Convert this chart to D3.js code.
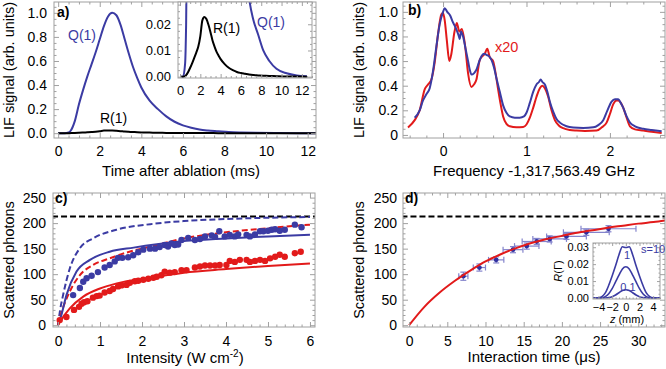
<!DOCTYPE html>
<html>
<head>
<meta charset="utf-8">
<script src="https://cdn.jsdelivr.net/npm/d3@7"></script>
<style>
  body { margin: 0; background: #fff; }
  svg { font-family: "Liberation Sans", Arial, sans-serif; }
</style>
</head>
<body>
<svg id="fig" width="666" height="369"></svg>
<script>
// ---- a) LIF time traces (ms, arb. units) ----
var tA  = [0, 0.3, 0.5, 0.6, 0.8, 1.0, 1.2, 1.4, 1.6, 1.8, 2.0, 2.2, 2.4, 2.6, 2.8, 3.0, 3.2, 3.4, 3.6, 3.8, 4.0,
           4.4, 4.8, 5.2, 5.6, 6.0, 6.4, 6.8, 7.2, 7.7, 8.2, 8.8, 9.5, 10.5, 11.5, 12.5];
var q1A = [0, 0, 0.005, 0.02, 0.1, 0.24, 0.36, 0.47, 0.57, 0.67, 0.78, 0.89, 0.97, 1.0, 0.98, 0.9, 0.78, 0.66, 0.55, 0.46, 0.38,
           0.27, 0.2, 0.14, 0.095, 0.065, 0.045, 0.03, 0.022, 0.016, 0.01, 0.006, 0.003, 0.0013, 0.0005, 0.0002];
var r1A = [0, 0, 0.0002, 0.0006, 0.0018, 0.0034, 0.0052, 0.0072, 0.0092, 0.0115, 0.0155, 0.0215, 0.0228, 0.022, 0.0198, 0.017, 0.0138, 0.0115, 0.0095, 0.008, 0.0067,
           0.0048, 0.0034, 0.0025, 0.0018, 0.0014, 0.0011, 0.0008, 0.0006, 0.0005, 0.0004, 0.0003, 0.0002, 0.0001, 0.0001, 0];

// ---- b) spectra (GHz offset, arb. units) ----
var specBlue = [[-0.34,0.14],[-0.28,0.2],[-0.24,0.28],[-0.2,0.33],[-0.16,0.38],[-0.12,0.52],[-0.08,0.72],[-0.04,0.9],
  [0.0,1.0],[0.02,1.03],[0.05,1.0],[0.085,0.97],[0.115,0.92],[0.145,0.88],[0.17,0.84],[0.19,0.8],[0.2,0.78],[0.215,0.84],
  [0.24,0.8],[0.27,0.7],[0.3,0.6],[0.32,0.53],[0.34,0.49],[0.37,0.5],[0.4,0.53],[0.43,0.59],[0.46,0.64],[0.49,0.66],
  [0.52,0.65],[0.55,0.64],[0.58,0.61],[0.61,0.55],[0.64,0.46],[0.68,0.35],[0.72,0.24],[0.76,0.18],[0.8,0.15],[0.86,0.14],
  [0.92,0.14],[0.97,0.15],[1.0,0.18],[1.04,0.26],[1.08,0.35],[1.12,0.41],[1.15,0.43],[1.17,0.45],[1.19,0.43],[1.22,0.41],
  [1.25,0.35],[1.28,0.27],[1.32,0.19],[1.36,0.13],[1.4,0.1],[1.48,0.07],[1.56,0.06],[1.68,0.057],[1.8,0.062],[1.86,0.08],
  [1.92,0.12],[1.97,0.2],[2.02,0.27],[2.06,0.29],[2.1,0.29],[2.13,0.26],[2.16,0.22],[2.2,0.15],[2.24,0.1],[2.3,0.07],
  [2.4,0.05],[2.5,0.04],[2.62,0.03]];
var specRed = [[-0.42,0.06],[-0.34,0.12],[-0.28,0.2],[-0.22,0.37],[-0.18,0.41],[-0.14,0.45],[-0.1,0.59],[-0.06,0.82],
  [-0.02,0.98],[0.0,0.99],[0.02,0.93],[0.045,0.77],[0.075,0.6],[0.1,0.66],[0.135,0.83],[0.165,0.91],[0.195,0.84],[0.225,0.86],
  [0.265,0.72],[0.3,0.5],[0.34,0.39],[0.37,0.41],[0.4,0.45],[0.44,0.61],[0.5,0.66],[0.53,0.7],[0.56,0.63],[0.6,0.6],
  [0.63,0.5],[0.66,0.37],[0.69,0.25],[0.72,0.15],[0.76,0.09],[0.8,0.07],[0.88,0.062],[0.96,0.065],[1.0,0.085],[1.04,0.14],
  [1.08,0.22],[1.12,0.31],[1.16,0.38],[1.19,0.4],[1.22,0.38],[1.26,0.31],[1.3,0.2],[1.34,0.12],[1.39,0.075],[1.44,0.055],
  [1.52,0.04],[1.6,0.035],[1.7,0.032],[1.84,0.035],[1.9,0.06],[1.96,0.1],[2.0,0.17],[2.04,0.25],[2.08,0.28],[2.1,0.28],
  [2.13,0.26],[2.16,0.22],[2.2,0.14],[2.24,0.07],[2.3,0.045],[2.4,0.035],[2.5,0.025],[2.62,0.016]];

// ---- c) scattered photons vs intensity (W cm^-2) ----
var maxPhotons = 213;
var blueDots = [[0.36,59],[0.52,73],[0.6,85],[0.68,92],[0.8,97],[0.95,104],[1.11,113],[1.23,118],[1.35,125],[1.43,132],
  [1.53,132],[1.67,133],[1.79,137],[1.91,143],[2.03,148],[2.19,150],[2.31,150],[2.42,153],[2.54,157],[2.62,154],[2.7,160],
  [2.78,157],[2.86,158],[2.94,167],[3.1,171],[3.26,167],[3.38,169],[3.5,174],[3.66,176],[3.74,173],[3.84,184],[3.97,174],
  [4.09,177],[4.21,174],[4.29,178],[4.49,177],[4.57,174],[4.69,178],[4.81,184],[4.89,184],[5.0,185],[5.09,187],[5.17,188],
  [5.28,185],[5.4,187],[5.64,197],[5.8,192]];
var redDots = [[0.04,10],[0.2,16],[0.38,30],[0.5,36],[0.56,42],[0.62,45],[0.7,47],[0.83,54],[0.92,57],[0.99,58],[1.11,64],
  [1.23,67],[1.31,71],[1.43,76],[1.51,78],[1.63,79],[1.71,83],[1.83,86],[1.91,87],[2.03,89],[2.15,91],[2.27,93],[2.35,95],
  [2.46,98],[2.54,105],[2.66,103],[2.78,104],[2.94,108],[3.06,108],[3.26,113],[3.38,115],[3.5,117],[3.62,117],[3.74,117],
  [3.85,118],[4.01,118],[4.09,126],[4.21,124],[4.33,128],[4.49,128],[4.57,124],[4.69,126],[4.81,128],[4.93,126],[5.05,131],
  [5.17,134],[5.28,138],[5.4,134],[5.64,141],[5.78,144]];
var blueDashed = [[0,0],[0.05,30],[0.12,59],[0.28,111],[0.52,151],[0.83,170],[1.39,187],[2.2,198],[3,204],[4,208],[5,210.5],[6,212]];
var blueSolid  = [[0,0],[0.08,20],[0.2,59],[0.44,105],[0.76,128],[1.23,144],[1.8,152],[2.4,159],[2.9,164],[4,170],[5,174],[6,177]];
var redDashed  = [[0,0],[0.04,13],[0.28,66],[0.52,98],[0.83,118],[1.23,131],[1.7,144],[2.2,154],[3,170],[4,182],[5,190],[6,197]];
var redSolid   = [[0,0],[0.04,6],[0.28,33],[0.6,56],[1.0,72],[1.4,82],[2.2,93],[3,103],[4,110],[5,116],[6,121]];

// ---- d) scattered photons vs interaction time (us) ----
var tInt   = [7.1, 9.2, 11.4, 13.6, 15.4, 16.7, 18.4, 20.6, 23.2, 26.1];
var nInt   = [96, 113, 128, 148, 155, 164, 169, 174, 182, 189];
var tErr   = [0.6, 0.8, 1.0, 1.3, 1.6, 1.9, 2.2, 2.6, 3.0, 3.6];
var nErr   = [8, 7, 6, 6, 6, 6, 6, 6, 6, 6];
var fitD   = [[0,0],[2,36],[4,64],[6,87],[8,107],[10,125],[12,139],[14,151],[16,161],[18,169],[20,175],[22,181],
              [24,186],[26,191],[28,195],[30,199],[32,202],[33.5,205]];

// ---- d inset) scattering rate vs z (mm) ----
var zPos  = [-5, -4, -3.5, -3, -2.5, -2, -1.5, -1, -0.5, 0, 0.5, 1, 1.5, 2, 2.5, 3, 3.5, 4, 5];
var rateS01 = [0, 0, 0, 0.0001, 0.0003, 0.0008, 0.0018, 0.0031, 0.0044, 0.0049, 0.0044, 0.0031, 0.0018, 0.0008, 0.0003, 0.0001, 0, 0, 0];
var rateS1  = [0, 0, 0.0002, 0.0008, 0.0025, 0.0055, 0.0095, 0.0135, 0.0172, 0.0185, 0.0172, 0.0135, 0.0095, 0.0055, 0.0025, 0.0008, 0.0002, 0, 0];
var rateS10 = [0, 0.0001, 0.0008, 0.003, 0.0075, 0.013, 0.019, 0.0255, 0.0303, 0.0298, 0.0303, 0.0255, 0.019, 0.013, 0.0075, 0.003, 0.0008, 0.0001, 0];

var blue = "#3b3ba3", red = "#e21a1a", frameCol = "#a0a0a0", errCol = "#8484cc";

var svg = d3.select("#fig");
var clipId = 0;

function addAxis(g, axis, pos, values, size, fmt, pad, fs) {
    var a = g.append("g")
        .attr("transform", pos)
        .call(axis.tickValues(values).tickSize(-size).tickPadding(pad || 0).tickFormat(fmt || ""));
    a.attr("font-family", null).attr("font-size", fs || 14);
    a.select(".domain").remove();
    a.selectAll("line").attr("stroke", frameCol);
    a.selectAll("text").attr("fill", "#000");
}

function minors(lo, hi, step, major) {
    return d3.range(lo, hi + step / 2, step).filter(function(v) {
        return !major.some(function(m) { return Math.abs(m - v) < step / 10; });
    });
}

// frame with inward ticks on all four sides, labels on bottom/left
function frame(g, x, y, o) {
    var x0 = x.range()[0], x1 = x.range()[1], y0 = y.range()[0], y1 = y.range()[1];
    var big = o.tick || 5, small = big / 2;
    g.append("rect")
        .attr("x", x0).attr("y", y1)
        .attr("width", x1 - x0).attr("height", y0 - y1)
        .attr("fill", "none").attr("stroke", frameCol);
    addAxis(g, d3.axisBottom(x), "translate(0," + y0 + ")", o.xMajor, big, o.xFmt, o.xPad, o.fs);
    addAxis(g, d3.axisBottom(x), "translate(0," + y0 + ")", o.xMinor, small);
    addAxis(g, d3.axisTop(x), "translate(0," + y1 + ")", o.xMajor, big);
    addAxis(g, d3.axisTop(x), "translate(0," + y1 + ")", o.xMinor, small);
    addAxis(g, d3.axisLeft(y), "translate(" + x0 + ",0)", o.yMajor, big, o.yFmt, o.yPad, o.fs);
    addAxis(g, d3.axisLeft(y), "translate(" + x0 + ",0)", o.yMinor, small);
    addAxis(g, d3.axisRight(y), "translate(" + x1 + ",0)", o.yMajor, big);
    addAxis(g, d3.axisRight(y), "translate(" + x1 + ",0)", o.yMinor, small);
}

function plotArea(x, y, white) {
    var id = "clip" + (clipId++);
    var x0 = x.range()[0], x1 = x.range()[1], y0 = y.range()[0], y1 = y.range()[1];
    svg.append("clipPath").attr("id", id)
        .append("rect").attr("x", x0).attr("y", y1).attr("width", x1 - x0).attr("height", y0 - y1);
    if (white) {
        svg.append("rect").attr("x", x0).attr("y", y1).attr("width", x1 - x0).attr("height", y0 - y1).attr("fill", "#fff");
    }
    return svg.append("g").attr("clip-path", "url(#" + id + ")");
}

function curve(g, x, y, pts, color, dash, w) {
    g.append("path")
        .datum(pts)
        .attr("fill", "none")
        .attr("stroke", color)
        .attr("stroke-width", w || 2)
        .attr("stroke-dasharray", dash || null)
        .attr("d", d3.line().curve(d3.curveMonotoneX)
            .x(function(d) { return x(d[0]); })
            .y(function(d) { return y(d[1]); }));
}

function label(x, y, txt, o) {
    o = o || {};
    return svg.append("text")
        .attr("x", x).attr("y", y)
        .attr("font-size", o.fs || 14)
        .attr("font-weight", o.bold ? "bold" : null)
        .attr("text-anchor", o.anchor || "start")
        .attr("fill", o.color || "#000")
        .text(txt);
}

function yTitle(x, y, txt) {
    return svg.append("text")
        .attr("transform", "translate(" + x + "," + y + ") rotate(-90)")
        .attr("text-anchor", "middle")
        .attr("font-size", 14.5)
        .text(txt);
}

var zip = function(xs, ys) { return xs.map(function(v, i) { return [v, ys[i]]; }); };
var f1 = d3.format(".1f"), f2 = d3.format(".2f"), fd = d3.format("d");

// ================= a) =================
var xa = d3.scaleLinear().domain([-0.2, 12.4]).range([54, 316]);
var ya = d3.scaleLinear().domain([-0.04, 1.09]).range([138, 2]);
var ga = plotArea(xa, ya);
curve(ga, xa, ya, zip(tA, q1A), blue);
curve(ga, xa, ya, zip(tA, r1A), "#000");
frame(svg.append("g"), xa, ya, {
    xMajor: d3.range(0, 13, 2), xMinor: minors(0, 12, 0.5, d3.range(0, 13, 2)), xFmt: fd, xPad: 8,
    yMajor: d3.range(0, 1.01, 0.2), yMinor: minors(0, 1.05, 0.05, d3.range(0, 1.01, 0.2)), yFmt: f1, yPad: 7
});
label(68, 40, "Q(1)", {color: blue});
label(100, 123, "R(1)");
label(57, 17, "a)", {bold: true});
label(181, 176, "Time after ablation (ms)", {fs: 15, anchor: "middle"});
yTitle(14, 70, "LIF signal (arb. units)");

// inset a
var xai = d3.scaleLinear().domain([-0.2, 13]).range([178, 312]);
var yai = d3.scaleLinear().domain([-0.0005, 0.0285]).range([78, 2]);
var gai = plotArea(xai, yai, true);
curve(gai, xai, yai, zip(tA, q1A), blue);
curve(gai, xai, yai, zip(tA, r1A), "#000");
frame(svg.append("g"), xai, yai, {
    tick: 4, fs: 13,
    xMajor: d3.range(0, 13, 2), xMinor: minors(0, 13, 0.5, d3.range(0, 13, 2)), xFmt: fd, xPad: 8,
    yMajor: [0, 0.01, 0.02], yMinor: minors(0, 0.0275, 0.0025, [0, 0.01, 0.02]), yFmt: f2, yPad: 7
});
label(213, 33, "R(1)");
label(257, 27, "Q(1)", {color: blue});

// ================= b) =================
var xb = d3.scaleLinear().domain([-0.48, 2.66]).range([403, 665]);
var yb = d3.scaleLinear().domain([-0.025, 1.08]).range([138, 2]);
var gb = plotArea(xb, yb);
curve(gb, xb, yb, specRed, red);
curve(gb, xb, yb, specBlue, blue);
frame(svg.append("g"), xb, yb, {
    xMajor: [0, 1, 2], xMinor: minors(-0.4, 2.6, 0.2, [0, 1, 2]), xFmt: fd, xPad: 8,
    yMajor: d3.range(0, 1.01, 0.2), yMinor: minors(0, 1.05, 0.05, d3.range(0, 1.01, 0.2)),
    yFmt: function(d) { return d === 0 ? "0" : f1(d); }, yPad: 5
});
label(495, 52, "x20", {color: red, fs: 14.5});
label(408, 15, "b)", {bold: true});
label(534, 176, "Frequency -1,317,563.49 GHz", {fs: 15, anchor: "middle"});
yTitle(364, 70, "LIF signal (arb. units)");

// ================= c) =================
var xc = d3.scaleLinear().domain([-0.12, 6.12]).range([53, 315]);
var yc = d3.scaleLinear().domain([-3.5, 259]).range([327, 193]);
var gc = plotArea(xc, yc);
curve(gc, xc, yc, [[-1, maxPhotons], [7, maxPhotons]], "#000", "6,3");
curve(gc, xc, yc, blueDashed, blue, "6,3");
curve(gc, xc, yc, redDashed, red, "6,3");
curve(gc, xc, yc, blueSolid, blue);
curve(gc, xc, yc, redSolid, red);
gc.selectAll(".bd").data(blueDots).enter().append("circle")
    .attr("cx", function(d) { return xc(d[0]); })
    .attr("cy", function(d) { return yc(d[1]); })
    .attr("r", 3.2).attr("fill", blue);
gc.selectAll(".rd").data(redDots).enter().append("circle")
    .attr("cx", function(d) { return xc(d[0]); })
    .attr("cy", function(d) { return yc(d[1]); })
    .attr("r", 3.2).attr("fill", red);
frame(svg.append("g"), xc, yc, {
    xMajor: d3.range(0, 7), xMinor: minors(0, 6, 0.2, d3.range(0, 7)), xFmt: fd, xPad: 9,
    yMajor: d3.range(0, 251, 50), yMinor: minors(0, 250, 10, d3.range(0, 251, 50)), yFmt: fd, yPad: 7
});
label(55, 203, "c)", {bold: true});
var tc = label(185, 363, "Intensity (W cm", {fs: 15, anchor: "middle"});
tc.append("tspan").attr("dy", -6).attr("font-size", 10).text("-2");
tc.append("tspan").attr("dy", 6).text(")");
yTitle(14, 260, "Scattered photons");

// ================= d) =================
var xd = d3.scaleLinear().domain([-0.8, 33.5]).range([403, 665]);
var yd = d3.scaleLinear().domain([-3.5, 259]).range([327, 193]);
var gd = plotArea(xd, yd);
curve(gd, xd, yd, [[-1, maxPhotons], [40, maxPhotons]], "#000", "6,3");
var pts = tInt.map(function(t, i) { return {t: t, n: nInt[i], te: tErr[i], ne: nErr[i]}; });
var eb = gd.selectAll(".eb").data(pts).enter().append("g")
    .attr("stroke", errCol).attr("stroke-width", 1.2);
eb.append("line")
    .attr("x1", function(d) { return xd(d.t - d.te); })
    .attr("x2", function(d) { return xd(d.t + d.te); })
    .attr("y1", function(d) { return yd(d.n); })
    .attr("y2", function(d) { return yd(d.n); });
eb.append("line")
    .attr("x1", function(d) { return xd(d.t); })
    .attr("x2", function(d) { return xd(d.t); })
    .attr("y1", function(d) { return yd(d.n - d.ne); })
    .attr("y2", function(d) { return yd(d.n + d.ne); });
[-1, 1].forEach(function(s) {
    eb.append("line")
        .attr("x1", function(d) { return xd(d.t + s * d.te); })
        .attr("x2", function(d) { return xd(d.t + s * d.te); })
        .attr("y1", function(d) { return yd(d.n) - 3; })
        .attr("y2", function(d) { return yd(d.n) + 3; });
    eb.append("line")
        .attr("x1", function(d) { return xd(d.t) - 3; })
        .attr("x2", function(d) { return xd(d.t) + 3; })
        .attr("y1", function(d) { return yd(d.n + s * d.ne); })
        .attr("y2", function(d) { return yd(d.n + s * d.ne); });
});
gd.selectAll(".pt").data(pts).enter().append("circle")
    .attr("cx", function(d) { return xd(d.t); })
    .attr("cy", function(d) { return yd(d.n); })
    .attr("r", 2.4).attr("fill", "#3030a0");
curve(gd, xd, yd, fitD, red);
frame(svg.append("g"), xd, yd, {
    xMajor: d3.range(0, 31, 5), xMinor: minors(0, 33, 1, d3.range(0, 31, 5)), xFmt: fd, xPad: 9,
    yMajor: d3.range(0, 251, 50), yMinor: minors(0, 250, 10, d3.range(0, 251, 50)), yFmt: fd, yPad: 6
});
label(405, 203, "d)", {bold: true});
label(534, 362, "Interaction time (\u03bcs)", {fs: 15, anchor: "middle"});
yTitle(364, 260, "Scattered photons");

// inset d
var xdi = d3.scaleLinear().domain([-4.8, 5.0]).range([593, 660]);
var ydi = d3.scaleLinear().domain([-0.0006, 0.0325]).range([299, 243]);
var gdi = plotArea(xdi, ydi, true);
[rateS01, rateS1, rateS10].forEach(function(r) {
    curve(gdi, xdi, ydi, zip(zPos, r), blue, null, 1.6);
});
frame(svg.append("g"), xdi, ydi, {
    tick: 3, fs: 11,
    xMajor: d3.range(-4, 5, 2), xMinor: minors(-4.5, 5, 0.5, d3.range(-4, 5, 2)), xFmt: fd, xPad: 4,
    yMajor: [0, 0.01, 0.02, 0.03], yMinor: minors(0, 0.0325, 0.0025, [0, 0.01, 0.02, 0.03]), yFmt: f2, yPad: 4
});
label(641, 253, "s=10", {color: blue, fs: 11});
label(627, 259, "1", {color: blue, fs: 11, anchor: "middle"});
label(628, 291, "0.1", {color: blue, fs: 11, anchor: "middle"});
var rt = svg.append("text")
    .attr("transform", "translate(562,271) rotate(-90)")
    .attr("text-anchor", "middle").attr("font-size", 11);
rt.append("tspan").attr("font-style", "italic").text("R");
rt.append("tspan").text("(\u0393)");
var zt = label(627, 323, "", {fs: 11, anchor: "middle"});
zt.append("tspan").attr("font-style", "italic").text("z");
zt.append("tspan").text(" (mm)");
</script>
</body>
</html>
